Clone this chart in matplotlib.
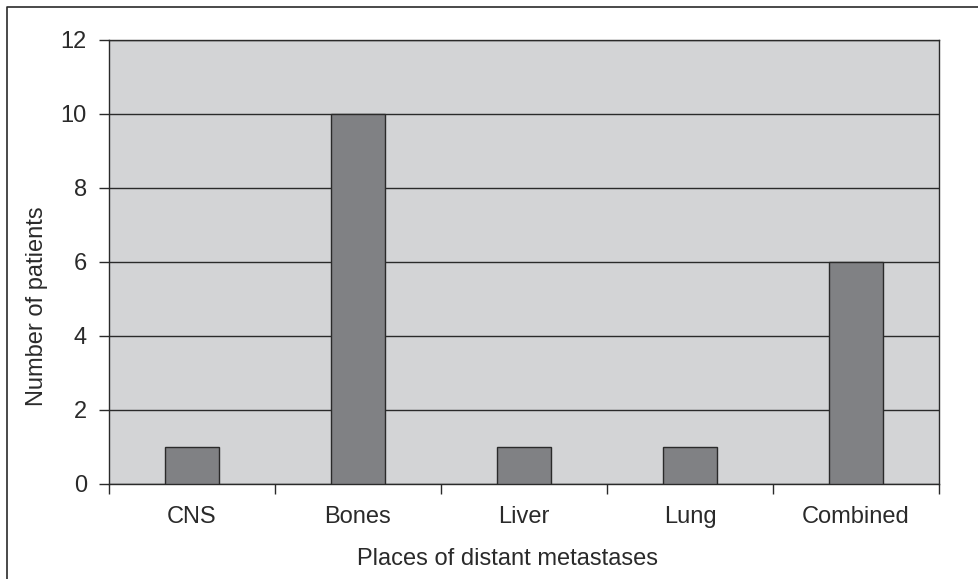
import matplotlib.pyplot as plt
import numpy as np

# data
categories = ["CNS", "Bones", "Liver", "Lung", "Combined"]
patients = [1, 10, 1, 1, 6]
y_ticks = [0, 2, 4, 6, 8, 10, 12]

plt.rcParams['font.family'] = ['Liberation Sans', 'DejaVu Sans']
ink = "#2a2a2a"
fs = 17

fig = plt.figure(figsize=(9.79, 5.79), dpi=100)
ax = fig.add_axes([109 / 979, 1 - 484 / 579, 830 / 979, 444 / 579])

x = np.arange(len(categories))
ax.bar(x, patients, width=0.32, color="#808184", edgecolor=ink, linewidth=1, zorder=3)

ax.set_facecolor("#d3d4d6")
ax.set_xlim(-0.5, len(categories) - 0.5)
ax.set_ylim(0, 12)
ax.set_yticks(y_ticks)
ax.yaxis.grid(True, color=ink, linewidth=1)
ax.set_axisbelow(True)

# category labels in the middle, tick marks between categories
ax.set_xticks(x)
ax.set_xticklabels(categories)
ax.set_xticks(np.arange(-0.5, len(categories), 1), minor=True)
ax.tick_params(axis="x", which="major", length=0, pad=16, labelsize=fs, colors=ink)
ax.tick_params(axis="x", which="minor", length=7, width=1, direction="out", color=ink)
ax.tick_params(axis="y", length=7, width=1, direction="out", pad=9, labelsize=fs, colors=ink)

for side in ["top", "right", "left", "bottom"]:
    ax.spines[side].set_color(ink)
    ax.spines[side].set_linewidth(1)

ax.set_xlabel("Places of distant metastases", fontsize=fs, color=ink)
ax.xaxis.set_label_coords(0.48, -0.145)
ax.set_ylabel("Number of patients", fontsize=fs, color=ink)
ax.yaxis.set_label_coords(-0.073, 0.40)

# frame edge along the left and top of the image (right/bottom are cropped off)
fig.add_artist(plt.Line2D([7 / 979, 7 / 979, 1], [0, 1 - 7 / 579, 1 - 7 / 579],
                          transform=fig.transFigure, color=ink, linewidth=1.2))

fig.savefig("out.png", dpi=100)
